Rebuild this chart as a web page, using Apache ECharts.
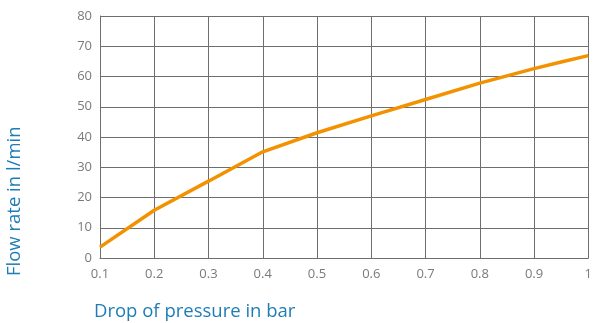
<!DOCTYPE html>
<html>
<head>
<meta charset="utf-8">
<script src="https://cdn.jsdelivr.net/npm/echarts@6/dist/echarts.min.js"></script>
<style>
  html, body { margin: 0; padding: 0; background: #fff; }
  #chart { width: 595px; height: 323px; }
</style>
</head>
<body>
<div id="chart"></div>
<script>
// pressure drop (bar) and flow rate (l/min)
const pressure = [0.1, 0.2, 0.3, 0.4, 0.5, 0.6, 0.7, 0.8, 0.9, 0.95, 1.0];
const flowRate = [3.6, 15.8, 25.4, 35.1, 41.4, 47.0, 52.4, 57.8, 62.6, 64.8, 66.9];
const xTitle = 'Drop of pressure in bar';
const yTitle = 'Flow rate in l/min';

const chart = echarts.init(document.getElementById('chart'));
const gridColor = '#6e6e6e';
const labelColor = '#7a7a7a';
const titleColor = '#1f7db5';

chart.setOption({
    animation: false,
    grid: { left: 100, right: 3, top: 16, bottom: 65 },
    xAxis: {
        type: 'value',
        min: 0.1,
        max: 1,
        interval: 0.1,
        axisLine: { show: true, lineStyle: { color: gridColor, width: 1 } },
        axisTick: { show: false },
        axisLabel: {
            color: labelColor,
            fontSize: 13,
            fontFamily: 'Open Sans',
            margin: 10,
            formatter: v => String(Math.round(v * 10) / 10)
        },
        splitLine: { show: true, lineStyle: { color: gridColor, width: 1 } }
    },
    yAxis: {
        type: 'value',
        min: 0,
        max: 80,
        interval: 10,
        axisLine: { show: true, lineStyle: { color: gridColor, width: 1 } },
        axisTick: { show: false },
        axisLabel: { color: labelColor, fontSize: 13, fontFamily: 'Open Sans', margin: 8 },
        splitLine: { show: true, lineStyle: { color: gridColor, width: 1 } }
    },
    graphic: [
        {
            type: 'text',
            left: 94,
            top: 302,
            style: { text: xTitle, fill: titleColor, fontSize: 18.5, fontFamily: 'Open Sans' }
        },
        {
            type: 'text',
            x: 5,
            y: 276,
            rotation: Math.PI / 2,
            style: { text: yTitle, fill: titleColor, fontSize: 18.5, fontFamily: 'Open Sans',
                     textVerticalAlign: 'top' }
        }
    ],
    series: [{
        type: 'line',
        data: pressure.map((p, i) => [p, flowRate[i]]),
        symbol: 'none',
        lineStyle: { color: '#f39200', width: 3.5 }
    }]
});
</script>
</body>
</html>
